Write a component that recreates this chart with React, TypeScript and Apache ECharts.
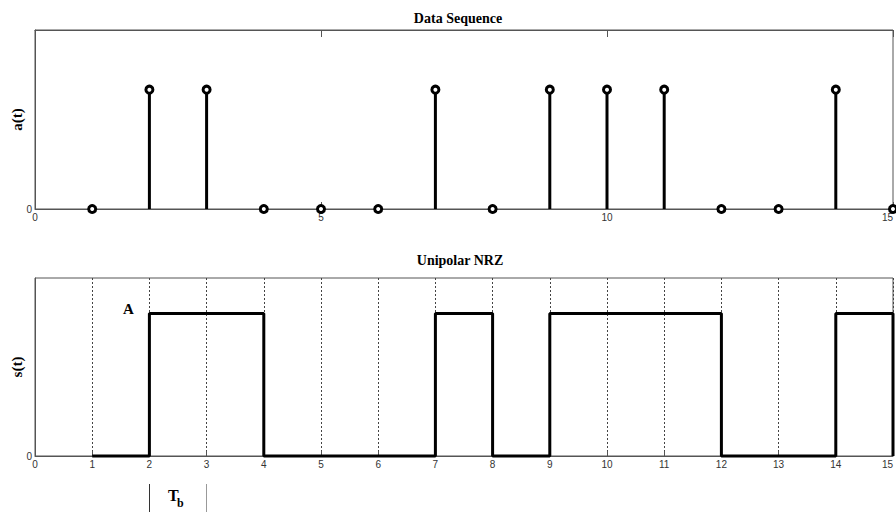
import React, { useEffect, useRef } from "react";
import * as echarts from "echarts";

const times = [1, 2, 3, 4, 5, 6, 7, 8, 9, 10, 11, 12, 13, 14, 15];
const bits = [0, 1, 1, 0, 0, 0, 1, 0, 1, 1, 1, 0, 0, 1, 0];
const titles = ["Data Sequence", "Unipolar NRZ"];
const yNames = ["a(t)", "s(t)"];

const serif = "Liberation Serif";
const sans = "Liberation Sans";

export default function App() {
  const ref = useRef<HTMLDivElement>(null);
  useEffect(() => {
    if (!ref.current) return;
    const chart = echarts.init(ref.current, null, { renderer: "svg" });
    const pts = times.map((x, i) => [x, bits[i]]);
    const axisLabel = { fontFamily: sans, fontSize: 10, color: "#333" };
    const zeroOnly = (v: number) => (v === 0 ? "0" : "");
    const titleStyle = { fontFamily: serif, fontWeight: "bold", fontSize: 14, color: "#000" };
    const nameStyle = { fontFamily: serif, fontWeight: "bold", fontSize: 15, color: "#000" };
    chart.setOption({
      animation: false,
      backgroundColor: "#fff",
      title: [
        { text: titles[0], left: 453, top: 6, textAlign: "center", textStyle: titleStyle },
        { text: titles[1], left: 455, top: 248, textAlign: "center", textStyle: titleStyle },
      ],
      grid: [
        { left: 35, top: 30, width: 858, height: 179, show: true, borderColor: "#555", borderWidth: 1, containLabel: false, outerBoundsMode: "none" },
        { left: 35, top: 278, width: 858, height: 178, show: true, borderColor: "#555", borderWidth: 1, containLabel: false, outerBoundsMode: "none" },
      ],
      xAxis: [
        { type: "value", gridIndex: 0, min: 0, max: 15, interval: 5, axisLine: { lineStyle: { color: "#555" } }, axisTick: { inside: true, length: 7, lineStyle: { color: "#555" } }, axisLabel: { ...axisLabel, margin: 3, alignMaxLabel: "right" }, splitLine: { show: false } },
        { type: "value", gridIndex: 0, position: "top", min: 0, max: 15, interval: 5, axisLine: { lineStyle: { color: "#555" } }, axisTick: { inside: true, length: 7, lineStyle: { color: "#555" } }, axisLabel: { show: false }, splitLine: { show: false } },
        { type: "value", gridIndex: 1, min: 0, max: 15, interval: 1, axisLine: { lineStyle: { color: "#555" } }, axisTick: { inside: true, length: 5, lineStyle: { color: "#555" } }, axisLabel: { ...axisLabel, margin: 3, alignMaxLabel: "right" }, splitLine: { show: true, lineStyle: { type: [2, 2], color: "#444", width: 1 } } },
      ],
      yAxis: [
        { type: "value", gridIndex: 0, min: 0, max: 1.5, interval: 1.5, name: yNames[0], nameLocation: "middle", nameGap: 11, nameMoveOverlap: false, nameRotate: 90, nameTextStyle: nameStyle, axisLine: { lineStyle: { color: "#555" } }, axisTick: { show: false }, axisLabel: { ...axisLabel, margin: 3, formatter: zeroOnly }, splitLine: { show: false } },
        { type: "value", gridIndex: 1, min: 0, max: 1.25, interval: 1.25, name: yNames[1], nameLocation: "middle", nameGap: 11, nameMoveOverlap: false, nameRotate: 90, nameTextStyle: nameStyle, axisLine: { lineStyle: { color: "#555" } }, axisTick: { show: false }, axisLabel: { ...axisLabel, margin: 3, formatter: zeroOnly }, splitLine: { show: false } },
      ],
      series: [
        {
          type: "custom",
          xAxisIndex: 0,
          yAxisIndex: 0,
          data: pts,
          renderItem: (params: any, api: any) => {
            const x = api.value(0);
            const y = api.value(1);
            const p0 = api.coord([x, 0]);
            const p1 = api.coord([x, y]);
            return { type: "line", shape: { x1: p0[0], y1: p0[1], x2: p1[0], y2: p1[1] }, style: { stroke: "#000", lineWidth: 3 } };
          },
          z: 2,
        },
        {
          type: "scatter",
          xAxisIndex: 0,
          yAxisIndex: 0,
          data: pts,
          symbol: "circle",
          symbolSize: 7,
          clip: false,
          itemStyle: { color: "#fff", borderColor: "#000", borderWidth: 3, opacity: 1 },
          z: 3,
        },
        {
          type: "line",
          xAxisIndex: 2,
          yAxisIndex: 1,
          data: pts,
          step: "end",
          symbol: "none",
          clip: false,
          lineStyle: { color: "#000", width: 3 },
          z: 3,
        },
      ],
      graphic: [
        { type: "text", x: 123, y: 301, style: { text: "A", font: `bold 15px "${serif}"`, fill: "#000" } },
        { type: "text", x: 168, y: 487, style: { text: "T", font: `bold 16px "${serif}"`, fill: "#000" } },
        { type: "text", x: 177, y: 497, style: { text: "b", font: `bold 12px "${serif}"`, fill: "#000" } },
        { type: "line", shape: { x1: 149.5, y1: 484, x2: 149.5, y2: 512 }, style: { stroke: "#333", lineWidth: 1 } },
        { type: "line", shape: { x1: 206.5, y1: 484, x2: 206.5, y2: 512 }, style: { stroke: "#999", lineWidth: 1 } },
      ],
    });
    return () => chart.dispose();
  }, []);
  return <div ref={ref} style={{ width: 896, height: 512, position: "absolute", left: 0, top: 0 }} />;
}
